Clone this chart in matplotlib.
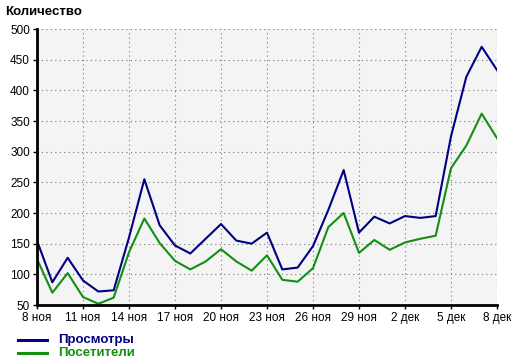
import numpy as np
import matplotlib
matplotlib.use("Agg")
from matplotlib import pyplot as plt
from matplotlib.lines import Line2D

plt.rcParams['font.family'] = ['Liberation Sans', 'DejaVu Sans']

# days since 8 Nov
days = np.arange(31)
tick_pos = np.arange(0, 31, 3)
tick_labels = ['8 ноя', '11 ноя', '14 ноя', '17 ноя', '20 ноя', '23 ноя',
               '26 ноя', '29 ноя', '2 дек', '5 дек', '8 дек']

views = [155, 87, 127, 90, 72, 74, 160, 255, 180, 147, 134, 158, 182, 155, 150, 168,
         108, 111, 146, 205, 270, 168, 194, 183, 195, 192, 195, 325, 422, 471, 433]
visitors = [125, 70, 102, 63, 52, 62, 136, 191, 151, 122, 108, 121, 141, 121, 106, 131,
            91, 88, 110, 177, 200, 135, 156, 140, 152, 158, 163, 273, 310, 362, 322]

W, H = 514, 357
fig = plt.figure(figsize=(W / 100, H / 100), dpi=100)
ax = fig.add_axes([37 / W, (H - 305) / H, 460 / W, 276 / H])
ax.set_facecolor('#f4f4f4')

ax.plot(days, views, color='#000080', lw=1.5)
ax.plot(days, visitors, color='#138f13', lw=1.5)

ax.set_xlim(0, 30)
ax.set_ylim(50, 500)
ax.set_xticks(tick_pos)
ax.set_xticklabels(tick_labels)
ax.set_yticks(np.arange(50, 501, 50))
ax.tick_params(labelsize=8.5, length=3, width=1, pad=2)
ax.grid(True, linestyle=(0, (1, 3)), color='#777777', lw=0.8)

for s in ['top', 'right']:
    ax.spines[s].set_visible(False)
for s in ['left', 'bottom']:
    ax.spines[s].set_linewidth(2)

fig.text(5 / W, 1 - 12 / H, 'Количество', fontsize=9.5, fontweight='bold', va='center')

# legend below the chart
for y, label, col in [(340, 'Просмотры', '#000080'), (353, 'Посетители', '#138f13')]:
    yy = 1 - y / H
    fig.add_artist(Line2D([18 / W, 47 / W], [yy, yy], color=col, lw=2.2))
    fig.text(58 / W, yy, label, color=col, fontsize=9.5, fontweight='bold', va='center')

plt.savefig("out.png", dpi=100)
